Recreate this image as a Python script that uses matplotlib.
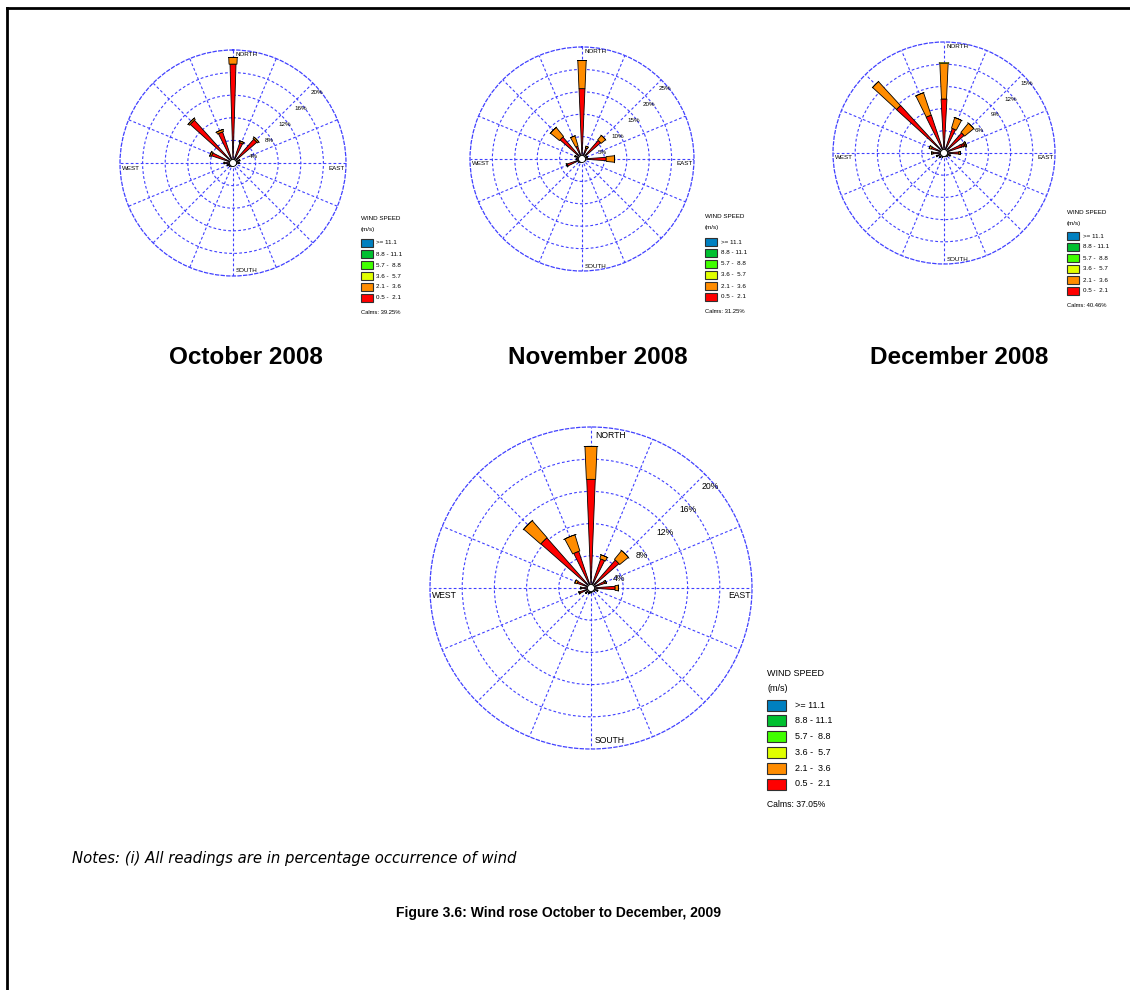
import numpy as np
import matplotlib.pyplot as plt
from matplotlib.patches import Rectangle, Circle
from matplotlib.lines import Line2D

# wind directions (16 sectors, clockwise from north)
directions = ['N', 'NNE', 'NE', 'ENE', 'E', 'ESE', 'SE', 'SSE',
              'S', 'SSW', 'SW', 'WSW', 'W', 'WNW', 'NW', 'NNW']

# percentage occurrence per speed class (0.5-2.1, 2.1-3.6, 3.6-5.7 m/s)
oct_red = [17.5, 3.8, 5.6, 1.2, 1.0, 0.6, 0.5, 0.5, 0.6, 0.6, 0.8, 1.0, 1.5, 4.0, 10.2, 5.8]
oct_orange = [1.2, 0.3, 0.3, 0.1, 0.1, 0.0, 0.0, 0.0, 0.0, 0.0, 0.0, 0.1, 0.1, 0.3, 0.3, 0.4]
oct_yellow = [0.0] * 16

nov_red = [15.7, 2.6, 5.5, 1.2, 5.4, 0.8, 0.6, 0.6, 0.8, 0.8, 1.0, 3.5, 1.2, 1.5, 6.5, 3.0]
nov_orange = [6.3, 0.4, 1.3, 0.1, 1.9, 0.1, 0.0, 0.0, 0.0, 0.0, 0.0, 0.2, 0.1, 0.2, 2.6, 2.4]
nov_yellow = [0.0] * 16

dec_red = [7.3, 3.5, 3.6, 3.0, 2.0, 0.8, 0.6, 0.5, 0.5, 0.6, 0.8, 1.0, 1.5, 1.8, 8.7, 5.4]
dec_orange = [4.8, 1.5, 1.6, 0.2, 0.2, 0.1, 0.0, 0.0, 0.0, 0.0, 0.0, 0.1, 0.2, 0.3, 4.4, 3.2]
dec_yellow = [0.15, 0, 0, 0, 0, 0, 0, 0, 0, 0, 0, 0, 0, 0, 0, 0]

all_red = [13.5, 3.8, 4.6, 1.8, 3.0, 0.8, 0.6, 0.5, 0.6, 0.7, 0.9, 1.5, 1.2, 1.8, 8.3, 4.8]
all_orange = [4.1, 0.5, 1.4, 0.2, 0.4, 0.1, 0.0, 0.0, 0.0, 0.0, 0.0, 0.1, 0.1, 0.3, 2.8, 2.1]
all_yellow = [0.0] * 16

calms = ['39.25%', '31.25%', '40.46%', '37.05%']
ring_labels_oct = [4, 8, 12, 16, 20]
ring_labels_nov = [5, 10, 15, 20, 25]
ring_labels_dec = [3, 6, 9, 12, 15]
ring_labels_all = [4, 8, 12, 16, 20]

month_titles = ['October 2008', 'November 2008', 'December 2008']

speed_labels = ['>= 11.1', '8.8 - 11.1', '5.7 -  8.8', '3.6 -  5.7', '2.1 -  3.6', '0.5 -  2.1']
speed_colors = ['#0080c0', '#00c030', '#40ff00', '#e0ff00', '#ff8c00', '#ff0000']

W, H = 1130, 990
GRID = '#4040ff'


def fx(x):
    return x / W


def fy(y):
    return 1 - y / H


fig = plt.figure(figsize=(W / 100, H / 100), dpi=100)


def draw_rose(cx, cy, r, rings, red, orange, yellow, fs):
    s = r / 113.0
    rmax = rings[-1]
    ax = fig.add_axes([fx(cx - r), fy(cy + r), 2 * r / W, 2 * r / H], projection='polar')
    ax.set_theta_zero_location('N')
    ax.set_theta_direction(-1)
    ax.set_ylim(0, rmax)
    ax.set_yticks(rings[:-1])
    ax.set_xticks(np.deg2rad(np.arange(16) * 22.5))
    ax.set_xticklabels([])
    ax.set_yticklabels([])
    ax.grid(True, color=GRID, linestyle=(0, (2.5, 2)), linewidth=0.8)
    ax.spines['polar'].set_color(GRID)
    ax.spines['polar'].set_linestyle((0, (2.5, 2)))
    ax.spines['polar'].set_linewidth(0.9)
    ax.patch.set_alpha(0)

    theta = np.deg2rad(np.arange(16) * 22.5)
    red = np.array(red)
    orange = np.array(orange)
    yellow = np.array(yellow)
    top1 = red
    top2 = red + orange
    top3 = top2 + yellow
    # bars keep a roughly constant end width in pixels, like WRPLOT
    px = r / rmax
    w1 = np.minimum(6.0 * s / (top1 * px), 0.14)
    w2 = np.minimum(8.5 * s / (top2 * px), 0.2)
    w3 = np.minimum(10.0 * s / (top3 * px), 0.25)
    ax.bar(theta, red, width=w1, bottom=0, color=speed_colors[5],
           edgecolor='black', linewidth=0.6, zorder=3)
    ax.bar(theta, orange, width=w2, bottom=red, color=speed_colors[4],
           edgecolor='black', linewidth=0.6, zorder=3)
    ax.bar(theta, yellow, width=w3, bottom=top2, color=speed_colors[3],
           edgecolor='black', linewidth=0.4, zorder=3)

    ax.add_patch(Circle((0.5, 0.5), 3.5 / (2 * r), transform=ax.transAxes,
                        facecolor='white', edgecolor='black', linewidth=0.6, zorder=5))

    k = 0.72  # px -> pt
    tkw = dict(textcoords='offset points', fontsize=fs, family='Liberation Sans', zorder=6)
    ax.annotate('NORTH', (0, rmax), xytext=(2.7 * s * k, -2.5 * s * k), ha='left', va='top', **tkw)
    ax.annotate('SOUTH', (np.pi, rmax), xytext=(2.7 * s * k, 2.5 * s * k), ha='left', va='bottom', **tkw)
    ax.annotate('EAST', (np.pi / 2, rmax), xytext=(-1 * k, -5 * s * k), ha='right', va='center', **tkw)
    ax.annotate('WEST', (3 * np.pi / 2, rmax), xytext=(1.5 * k, -5 * s * k), ha='left', va='center', **tkw)
    for v in rings:
        ax.annotate('%d%%' % v, (np.pi / 4, v), xytext=(4 * s * k, -9 * s * k),
                    ha='center', va='center', **tkw)
    return ax


def draw_legend(x0, ytitle, yrow1, step, bw, bh, xlab, fs, calm):
    fig.text(fx(x0), fy(ytitle), 'WIND SPEED', fontsize=fs, family='Liberation Sans',
             ha='left', va='center')
    fig.text(fx(x0), fy(ytitle + step), '(m/s)', fontsize=fs, family='Liberation Sans',
             ha='left', va='center')
    for i, (lab, col) in enumerate(zip(speed_labels, speed_colors)):
        yc = yrow1 + i * step
        fig.patches.append(Rectangle((fx(x0), fy(yc + bh / 2)), bw / W, bh / H,
                                     transform=fig.transFigure, facecolor=col,
                                     edgecolor='#303030', linewidth=0.8))
        fig.text(fx(xlab), fy(yc), lab, fontsize=fs, family='Liberation Sans',
                 ha='left', va='center')
    fig.text(fx(x0), fy(yrow1 + 5 * step + step * 1.3), 'Calms: ' + calm, fontsize=fs * 0.95,
             family='Liberation Sans', ha='left', va='center')


draw_rose(233, 163, 113, ring_labels_oct, oct_red, oct_orange, oct_yellow, 4.5)
draw_rose(582, 159, 112, ring_labels_nov, nov_red, nov_orange, nov_yellow, 4.5)
draw_rose(944, 153, 111, ring_labels_dec, dec_red, dec_orange, dec_yellow, 4.5)
draw_rose(591, 588, 161, ring_labels_all, all_red, all_orange, all_yellow, 6.2)

draw_legend(361, 218, 243, 11, 12, 8, 376, 4.5, calms[0])
draw_legend(705, 217, 242, 11, 12, 8, 721, 4.5, calms[1])
draw_legend(1067, 213, 236, 11, 12, 8, 1083, 4.5, calms[2])
draw_legend(767, 673, 705, 15.8, 19, 11, 795, 6.5, calms[3])

for x, t in zip([246, 598, 959], month_titles):
    fig.text(fx(x), fy(357), t, fontsize=17.5, fontweight='bold', family='Liberation Sans',
             ha='center', va='center')

fig.text(fx(72), fy(859), 'Notes: (i) All readings are in percentage occurrence of wind',
         fontsize=10.7, style='italic', family='DejaVu Sans', ha='left', va='center')
fig.text(fx(558), fy(913), 'Figure 3.6: Wind rose October to December, 2009',
         fontsize=10, fontweight='bold', family='Liberation Sans', ha='center', va='center')

# page frame (top and left edges)
fig.lines.append(Line2D([fx(7), fx(1130)], [fy(8), fy(8)], transform=fig.transFigure,
                        color='black', linewidth=2))
fig.lines.append(Line2D([fx(7), fx(7)], [fy(8), fy(990)], transform=fig.transFigure,
                        color='black', linewidth=2))

fig.savefig('out.png', dpi=100)
